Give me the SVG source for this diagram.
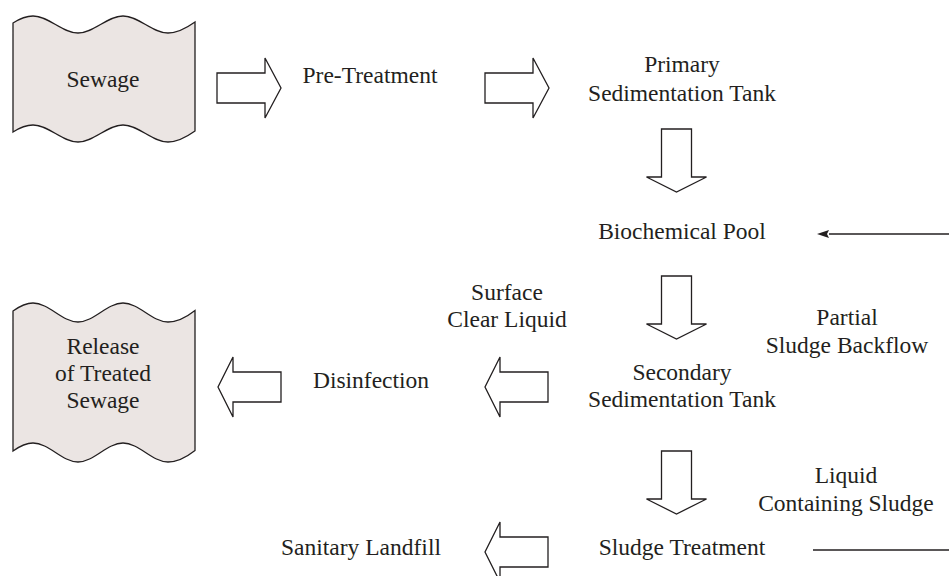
<svg xmlns="http://www.w3.org/2000/svg" width="949" height="576" viewBox="0 0 949 576">
<style>
  text { font-family: "Liberation Serif", "Times New Roman", serif; font-size: 23.5px; fill: #231f20; text-anchor: middle; }
  .doc { fill: #ebe5e3; stroke: #231f20; stroke-width: 1.3; }
  .block { fill: #ffffff; stroke: #231f20; stroke-width: 1.3; stroke-linejoin: miter; }
  .line { fill: none; stroke: #231f20; stroke-width: 1.3; }
</style>
<defs>
  <marker id="head" viewBox="0 0 12 8" refX="0.5" refY="4" markerWidth="12" markerHeight="8" markerUnits="userSpaceOnUse" orient="auto">
    <path d="M12,4 L0,0 L3,4 L0,8 Z" fill="#231f20" transform="translate(12,8) rotate(180)"/>
  </marker>
</defs>
<rect width="949" height="576" fill="#ffffff"/>

<g id="sewage">
  <path class="doc" d="M13,23 C20,18.5 26,16 33,16 C49,16 62,33 78,33 C94,33 107,16 123,16 C139,16 152,33 168,33 C178,33 188,27 195,22 L195,131 C188,136 178,142 168,142 C152,142 139,125 123,125 C107,125 94,142 78,142 C62,142 49,125 33,125 C26,125 20,127.5 13,132 Z"/>
  <text x="103" y="87">Sewage</text>
</g>
<g id="pretreatment"><text x="370" y="83">Pre-Treatment</text></g>
<g id="primary"><text x="682" y="72">Primary</text><text x="682" y="101">Sedimentation Tank</text></g>
<g id="biochemical"><text x="682" y="239">Biochemical Pool</text></g>
<g id="surface-label"><text x="507" y="300">Surface</text><text x="507" y="327">Clear Liquid</text></g>
<g id="backflow-label"><text x="847" y="325">Partial</text><text x="847" y="353">Sludge Backflow</text></g>
<g id="secondary"><text x="682" y="380">Secondary</text><text x="682" y="407">Sedimentation Tank</text></g>
<g id="disinfection"><text x="371" y="388">Disinfection</text></g>
<g id="release">
  <path class="doc" d="M13,311 C20,306 26,303 33,303 C49,303 62,322 78,322 C94,322 107,303 123,303 C139,303 152,322 168,322 C178,322 188,316 195,310.5 L195,450.5 C188,456 178,462 168,462 C152,462 139,443 123,443 C107,443 94,462 78,462 C62,462 49,443 33,443 C26,443 20,446 13,451 Z"/>
  <text x="103" y="354">Release</text>
  <text x="103" y="381">of Treated</text>
  <text x="103" y="408">Sewage</text>
</g>
<g id="liquid-label"><text x="846" y="483">Liquid</text><text x="846" y="511">Containing Sludge</text></g>
<g id="sludge-treatment"><text x="682" y="555">Sludge Treatment</text></g>
<g id="landfill"><text x="361" y="555">Sanitary Landfill</text></g>

<g id="connectors">
  <path class="block" d="M217,73 H265 V58 L281,88 L265,118 V103 H217 Z"/>
  <path class="block" d="M485,73 H533 V58 L549,88 L533,118 V103 H485 Z"/>
  <path class="block" d="M661.5,129 H691.5 V177 H706.5 L676.5,192 L646.5,177 H661.5 Z"/>
  <path class="block" d="M661.5,276 H691.5 V324 H706.5 L676.5,339 L646.5,324 H661.5 Z"/>
  <path class="block" d="M661.5,451 H691.5 V499 H706.5 L676.5,514 L646.5,499 H661.5 Z"/>
  <path class="block" d="M548,372 H500 V357 L485,387 L500,417 V402 H548 Z"/>
  <path class="block" d="M281,372 H233 V357 L218,387 L233,417 V402 H281 Z"/>
  <path class="block" d="M548,537 H500 V522 L485,552 L500,582 V567 H548 Z"/>
  <line class="line" x1="949" y1="234" x2="829" y2="234"/>
  <path d="M817,234 L829,230 L827,234 L829,238 Z" fill="#231f20"/>
  <line class="line" x1="813" y1="550" x2="949" y2="550"/>
</g>
</svg>
